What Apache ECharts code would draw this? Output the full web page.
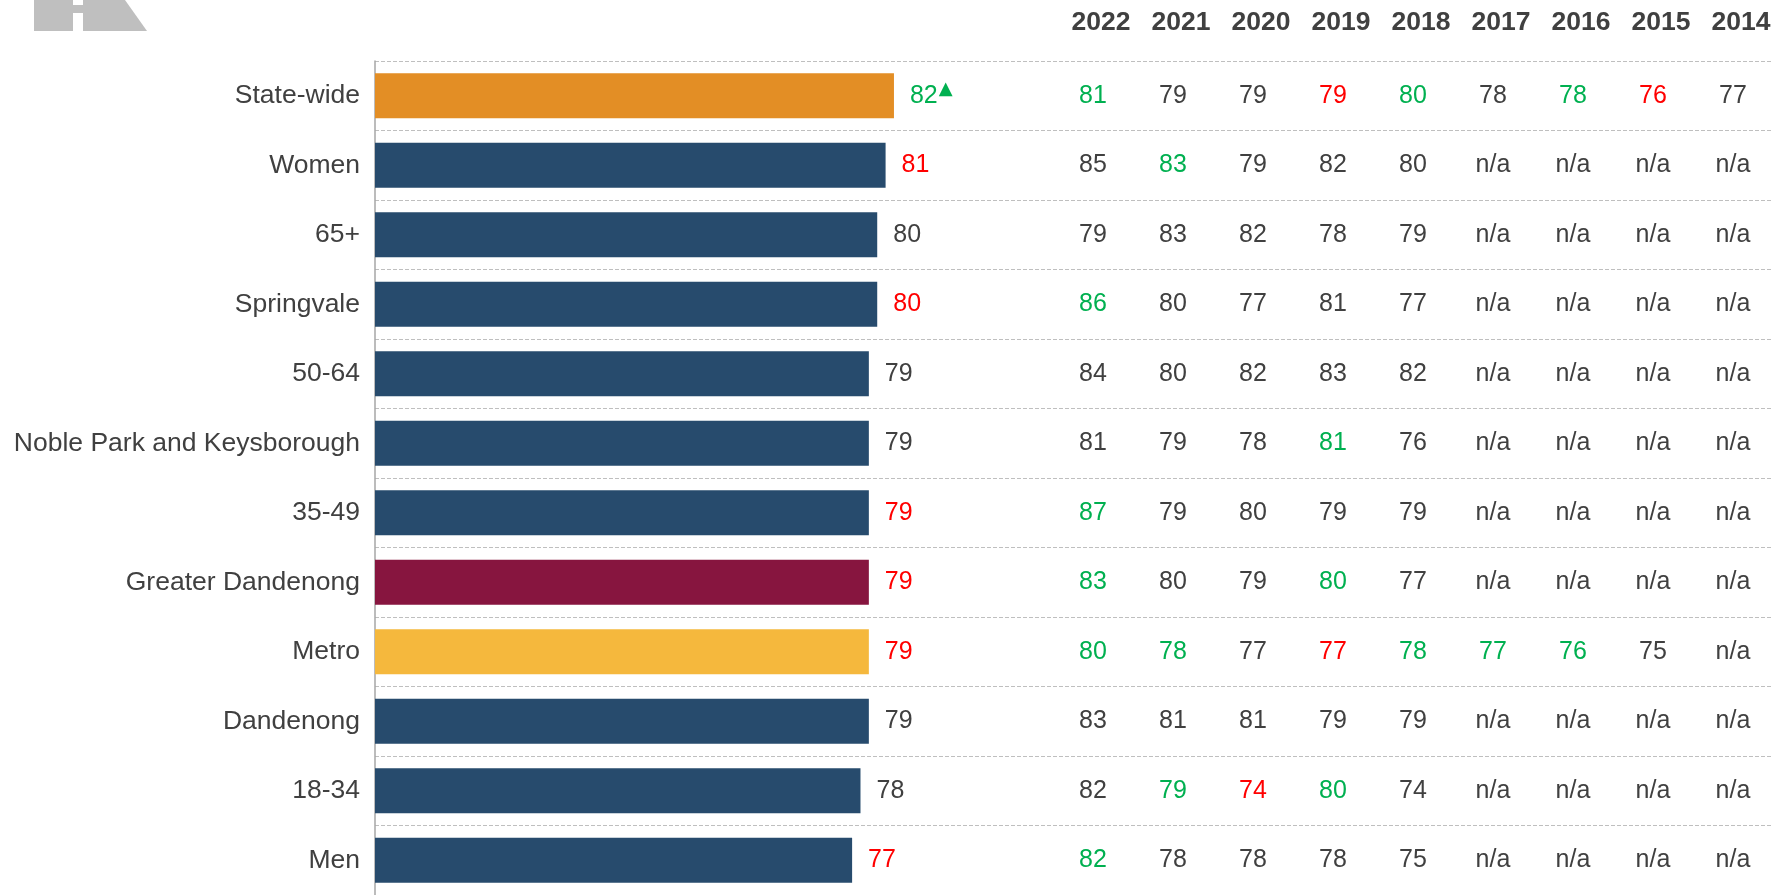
<!DOCTYPE html>
<html lang="en">
<head>
<meta charset="UTF-8" />
<title>Overall performance by group</title>
<script src="https://cdn.jsdelivr.net/npm/echarts@6/dist/echarts.min.js"></script>
<style>
  html, body { margin: 0; padding: 0; background: #fff; }
  #main { width: 1784px; height: 895px; }
</style>
</head>
<body>
<div id="main"></div>
<script>
// groups, top to bottom
var categories = ['State-wide', 'Women', '65+', 'Springvale', '50-64', 'Noble Park and Keysborough',
  '35-49', 'Greater Dandenong', 'Metro', 'Dandenong', '18-34', 'Men'];
// 2023 index scores
var scores = [82, 81, 80, 80, 79, 79, 79, 79, 79, 79, 78, 77];
// significance vs state-wide: 'up' = higher (green + arrow), 'low' = lower (red), '' = none
var scoreSig = ['up', 'low', '', 'low', '', '', 'low', 'low', 'low', '', '', 'low'];

// previous years table
var years = ['2022', '2021', '2020', '2019', '2018', '2017', '2016', '2015', '2014'];
var pastScores = [
  [81, 79, 79, 79, 80, 78, 78, 76, 77],
  [85, 83, 79, 82, 80, null, null, null, null],
  [79, 83, 82, 78, 79, null, null, null, null],
  [86, 80, 77, 81, 77, null, null, null, null],
  [84, 80, 82, 83, 82, null, null, null, null],
  [81, 79, 78, 81, 76, null, null, null, null],
  [87, 79, 80, 79, 79, null, null, null, null],
  [83, 80, 79, 80, 77, null, null, null, null],
  [80, 78, 77, 77, 78, 77, 76, 75, null],
  [83, 81, 81, 79, 79, null, null, null, null],
  [82, 79, 74, 80, 74, null, null, null, null],
  [82, 78, 78, 78, 75, null, null, null, null]
];
// g = significantly higher, r = significantly lower, . = not significant
var pastSig = [
  'g..rg.gr.',
  '.g.......',
  '.........',
  'g........',
  '.........',
  '...g.....',
  'g........',
  'g..g.....',
  'gg.rggg..',
  '.........',
  '.grg.....',
  'g........'
];

var GREEN = '#00B050', RED = '#FF0000', TXT = '#404040';
var FONT = '"Liberation Sans", Arial, sans-serif';
var barColor = { 'State-wide': '#E38E25', 'Greater Dandenong': '#87153F', 'Metro': '#F5B83D' };

var barData = scores.map(function (v, i) {
  return { value: v, itemStyle: { color: barColor[categories[i]] || '#274B6D' } };
});

var tableData = [];
pastScores.forEach(function (row, r) {
  row.forEach(function (v, c) {
    var s = pastSig[r].charAt(c);
    tableData.push({
      value: [c, r],
      label: { color: s === 'g' ? GREEN : (s === 'r' ? RED : TXT) }
    });
  });
});

var chart = echarts.init(document.getElementById('main'));
chart.setOption({
  animation: false,
  graphic: [
    // grey logo fragment top-left
    { type: 'polygon', shape: { points: [[34, 0], [125, 0], [147, 31], [34, 31]] }, style: { fill: '#BFBFBF' } },
    { type: 'rect', shape: { x: 73, y: 0, width: 10, height: 5 }, style: { fill: '#fff' } },
    { type: 'rect', shape: { x: 73, y: 13, width: 10, height: 18 }, style: { fill: '#fff' } }
  ],
  grid: [
    { left: 375, top: 61, width: 678, height: 839 },
    { left: 1053, top: 61, width: 720, height: 839 }
  ],
  xAxis: [
    { gridIndex: 0, type: 'value', min: 20, max: 101, show: false },
    {
      gridIndex: 1, type: 'category', data: years, position: 'top',
      axisLine: { show: false }, axisTick: { show: false },
      axisLabel: {
        interval: 0, margin: 38, verticalAlign: 'middle', padding: [0, 0, 0, 16],
        fontFamily: FONT, fontWeight: 'bold', fontSize: 26.5, color: TXT
      }
    }
  ],
  yAxis: [
    {
      gridIndex: 0, type: 'category', data: categories, inverse: true,
      axisLine: { lineStyle: { color: '#A6A6A6', width: 1.5 } },
      axisTick: { length: 7, lineStyle: { color: '#A6A6A6', width: 1.5 } },
      axisLabel: { margin: 15, fontFamily: FONT, fontSize: 26.5, color: TXT },
      splitLine: { show: true, lineStyle: { color: '#BFBFBF', type: [4, 2] } }
    },
    {
      gridIndex: 1, type: 'category', data: categories, inverse: true,
      axisLine: { show: false }, axisTick: { show: false }, axisLabel: { show: false },
      splitLine: { show: true, lineStyle: { color: '#BFBFBF', type: [4, 2] } }
    }
  ],
  series: [
    {
      type: 'bar', xAxisIndex: 0, yAxisIndex: 0, data: barData,
      barCategoryGap: '35%',
      label: {
        show: true, position: 'right', distance: 16,
        formatter: function (p) {
          var s = scoreSig[p.dataIndex];
          if (s === 'up') return '{g|' + p.value + '}{tri|▲}';
          return (s === 'low' ? '{r|' : '{n|') + p.value + '}';
        },
        rich: {
          g: { color: GREEN, fontSize: 25, fontFamily: FONT },
          r: { color: RED, fontSize: 25, fontFamily: FONT },
          n: { color: TXT, fontSize: 25, fontFamily: FONT },
          tri: { color: GREEN, fontSize: 18, fontFamily: '"DejaVu Sans"', padding: [0, 0, 12, 1] }
        }
      }
    },
    {
      type: 'scatter', xAxisIndex: 1, yAxisIndex: 1, data: tableData,
      symbolSize: 1, itemStyle: { color: 'rgba(0,0,0,0)', opacity: 1 },
      label: {
        show: true, position: 'inside', fontFamily: FONT, fontSize: 25,
        formatter: function (p) {
          var v = pastScores[p.value[1]][p.value[0]];
          return v == null ? 'n/a' : String(v);
        }
      }
    }
  ]
});
</script>
</body>
</html>
